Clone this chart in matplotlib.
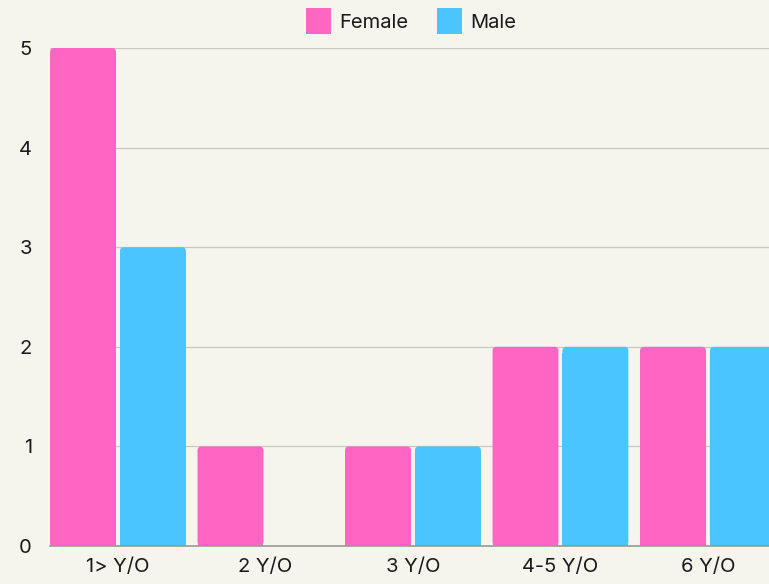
import matplotlib
matplotlib.use("Agg")
import matplotlib.pyplot as plt
from matplotlib.patches import FancyBboxPatch, Patch
import numpy as np

# ---------------------------------------
# Data
# ---------------------------------------

age_groups = ["1> Y/O", "2 Y/O", "3 Y/O", "4-5 Y/O", "6 Y/O"]
female = [5, 1, 1, 2, 2]
male = [3, 0, 1, 2, 2]

pink = "#ff66c4"
blue = "#4ac5fd"
bg = "#f5f5ee"

plt.rcParams["font.family"] = ["Inter", "DejaVu Sans"]

# ---------------------------------------
# Plot
# ---------------------------------------

fig = plt.figure(figsize=(7.69, 5.84), dpi=100, facecolor=bg)
W, H = 769, 584
ax = fig.add_axes([50 / W, 38 / H, 1 - 50 / W, (546 - 48) / H])
ax.set_facecolor(bg)

x = np.arange(len(age_groups))
width = 0.447
offset = 0.237
xlim = (-0.461, 4.414)
ylim = (0, 5)
ax.set_xlim(*xlim)
ax.set_ylim(*ylim)

# pixel scales for rounded corners
px_x = (xlim[1] - xlim[0]) / (W - 50)
px_y = (ylim[1] - ylim[0]) / (546 - 48)
r = 4 * px_x


def draw_bars(xs, vals, color):
    for xi, v in zip(xs, vals):
        if v <= 0:
            continue
        ax.add_patch(FancyBboxPatch(
            (xi - width / 2, 0), width, v,
            boxstyle=f"round,pad=0,rounding_size={r}",
            mutation_aspect=px_y / px_x,
            facecolor=color, edgecolor="none", zorder=3, clip_on=False))
        # square off the bottom corners
        ax.bar(xi, v - 6 * px_y, width, color=color, zorder=3)


draw_bars(x - offset, female, pink)
draw_bars(x + offset, male, blue)

ax.set_yticks(range(6))
ax.grid(axis="y", color="#c9c9c2", linewidth=0.9, zorder=0)
ax.set_axisbelow(True)
for s in ["top", "right", "left"]:
    ax.spines[s].set_visible(False)
ax.spines["bottom"].set_color("#9a9a94")
ax.spines["bottom"].set_linewidth(1.2)
ax.spines["bottom"].set_zorder(4)

ax.set_xticks(x)
ax.set_xticklabels(age_groups)
ax.tick_params(axis="x", length=0, pad=9, labelsize=14.5, colors="#1a1a1a")
ax.tick_params(axis="y", length=0, pad=13, labelsize=14.5, colors="#1a1a1a")

handles = [Patch(facecolor=pink, label="Female"), Patch(facecolor=blue, label="Male")]
fig.legend(handles=handles, loc="center", bbox_to_anchor=(411 / W, 1 - 21 / H),
           ncol=2, frameon=False, fontsize=14.5, handlelength=1.25,
           handleheight=1.6, handletextpad=0.4, columnspacing=1.4,
           labelcolor="#1a1a1a")

plt.savefig("out.png", dpi=100, facecolor=bg)
